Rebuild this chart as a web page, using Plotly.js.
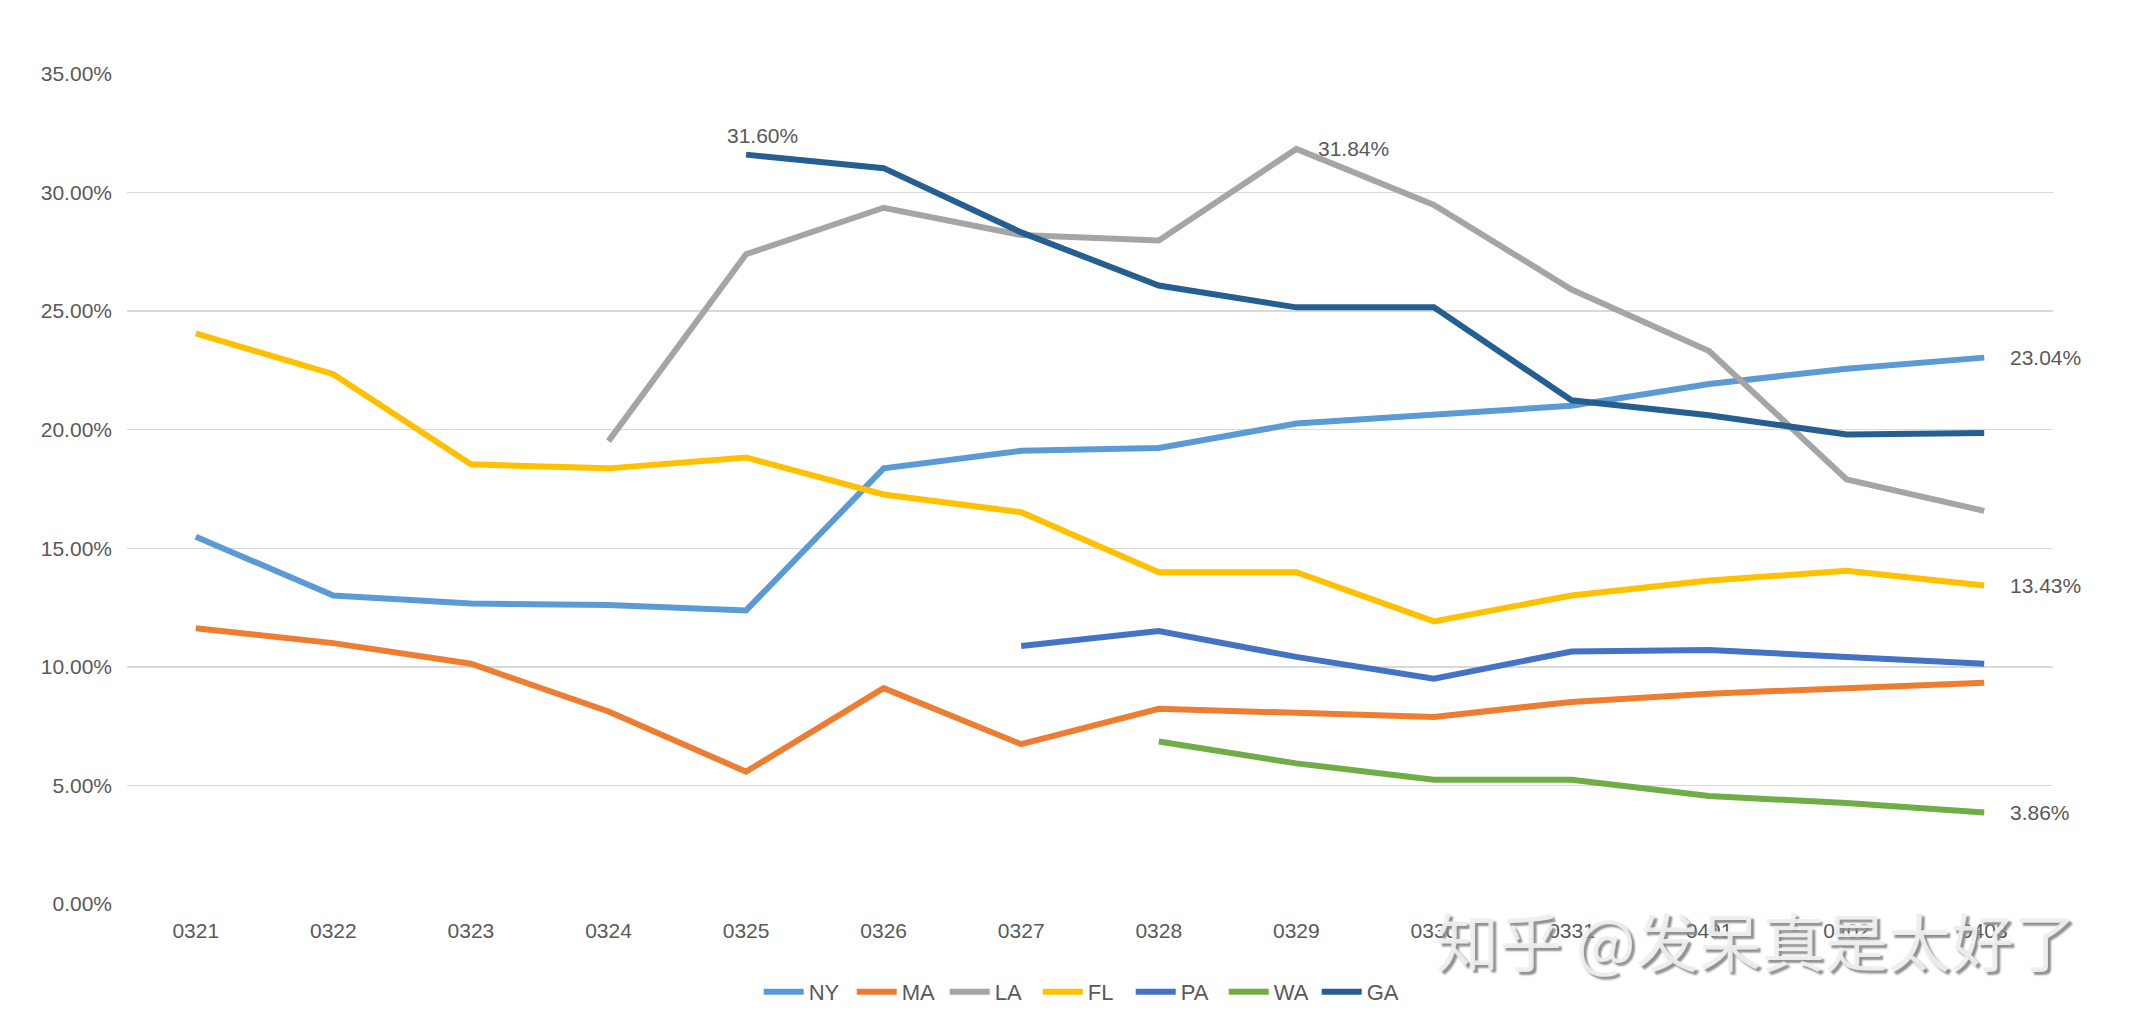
<!DOCTYPE html>
<html>
<head>
<meta charset="utf-8">
<script src="https://cdn.plot.ly/plotly-3.0.1.min.js"></script>
<style>html,body{margin:0;padding:0;background:#fff;}#chart{width:2142px;height:1036px;}</style>
</head>
<body>
<div id="chart"></div>
<script>
const dates = ['0321','0322','0323','0324','0325','0326','0327','0328','0329','0330','0331','0401','0402','0403'];
const NY = [0.1549,0.1301,0.1267,0.1261,0.1238,0.1837,0.1911,0.1923,0.2026,0.2061,0.2101,0.2193,0.2257,0.2304];
const MA = [0.1163,0.1100,0.1013,0.0812,0.0558,0.0910,0.0674,0.0823,0.0806,0.0789,0.0852,0.0887,0.0910,0.0933];
const LA = [null,null,null,0.1952,0.2740,0.2936,0.2821,0.2798,0.3184,0.2948,0.2591,0.2332,0.1790,0.1658];
const FL = [0.2406,0.2234,0.1854,0.1837,0.1883,0.1727,0.1652,0.1399,0.1399,0.1192,0.1301,0.1364,0.1405,0.1343];
const PA = [null,null,null,null,null,null,0.1088,0.1151,0.1042,0.0950,0.1065,0.1071,0.1042,0.1013];
const WA = [null,null,null,null,null,null,null,0.0685,0.0593,0.0524,0.0524,0.0455,0.0426,0.0386];
const GA = [null,null,null,null,0.3160,0.3103,0.2832,0.2608,0.2516,0.2516,0.2124,0.2061,0.1980,0.1986];
const seriesNames = ['NY','MA','LA','FL','PA','WA','GA'];
const seriesData = [NY,MA,LA,FL,PA,WA,GA];
const colors = ['#5B9BD5','#ED7D31','#A5A5A5','#FFC000','#4472C4','#70AD47','#255E91'];
const watermark = '知乎 @发呆真是太好了';

const traces = seriesNames.map((n,i)=>({
  type:'scatter', mode:'lines', name:n, x:dates, y:seriesData[i],
  line:{color:colors[i], width:6}, connectgaps:false, hoverinfo:'x+y+name'
}));

const fnt = {family:'Liberation Sans, Arial, sans-serif', size:21, color:'#595959'};
const pct = v => (v*100).toFixed(2)+'%';
const last = dates.length - 1;
const annotations = [
  {x:4, y:GA[4], text:pct(GA[4]), showarrow:false, xanchor:'center', yanchor:'bottom', xshift:16, yshift:6, font:fnt},
  {x:8, y:LA[8], text:pct(LA[8]), showarrow:false, xanchor:'left', yanchor:'middle', xshift:20, font:fnt},
  {x:last, y:NY[last], text:pct(NY[last]), showarrow:false, xanchor:'left', yanchor:'middle', xshift:24, font:fnt},
  {x:last, y:FL[last], text:pct(FL[last]), showarrow:false, xanchor:'left', yanchor:'middle', xshift:24, font:fnt},
  {x:last, y:WA[last], text:pct(WA[last]), showarrow:false, xanchor:'left', yanchor:'middle', xshift:24, font:fnt},
  {xref:'paper', yref:'paper', x:0.846, y:-0.042, text:watermark, showarrow:false,
   xanchor:'center', yanchor:'middle',
   font:{family:'Noto Sans CJK SC, sans-serif', size:63, color:'rgba(238,238,238,0.95)', shadow:'3px 3px 2px #8a8a8a'}}
];

const layout = {
  width:2142, height:1036,
  paper_bgcolor:'#ffffff', plot_bgcolor:'#ffffff',
  margin:{l:127, r:89, t:74, b:132},
  showlegend:true,
  legend:{orientation:'h', x:0.497, xanchor:'center', y:-0.106, yanchor:'middle', font:{family:fnt.family, size:22, color:fnt.color}, itemwidth:40, entrywidth:38, traceorder:'normal'},
  xaxis:{type:'category', range:[-0.5,13.5], showgrid:false, zeroline:false, showline:false, ticks:'', tickfont:fnt, ticklabelstandoff:12, fixedrange:true},
  yaxis:{range:[0,0.35], dtick:0.05, tickformat:'.2%', gridcolor:'#d9d9d9', gridwidth:1.5, zeroline:false, showline:false, ticks:'', tickfont:fnt, ticklabelstandoff:14},
  annotations:annotations,
  font:fnt
};
Plotly.newPlot('chart', traces, layout, {displayModeBar:false, staticPlot:true});
</script>
</body>
</html>
